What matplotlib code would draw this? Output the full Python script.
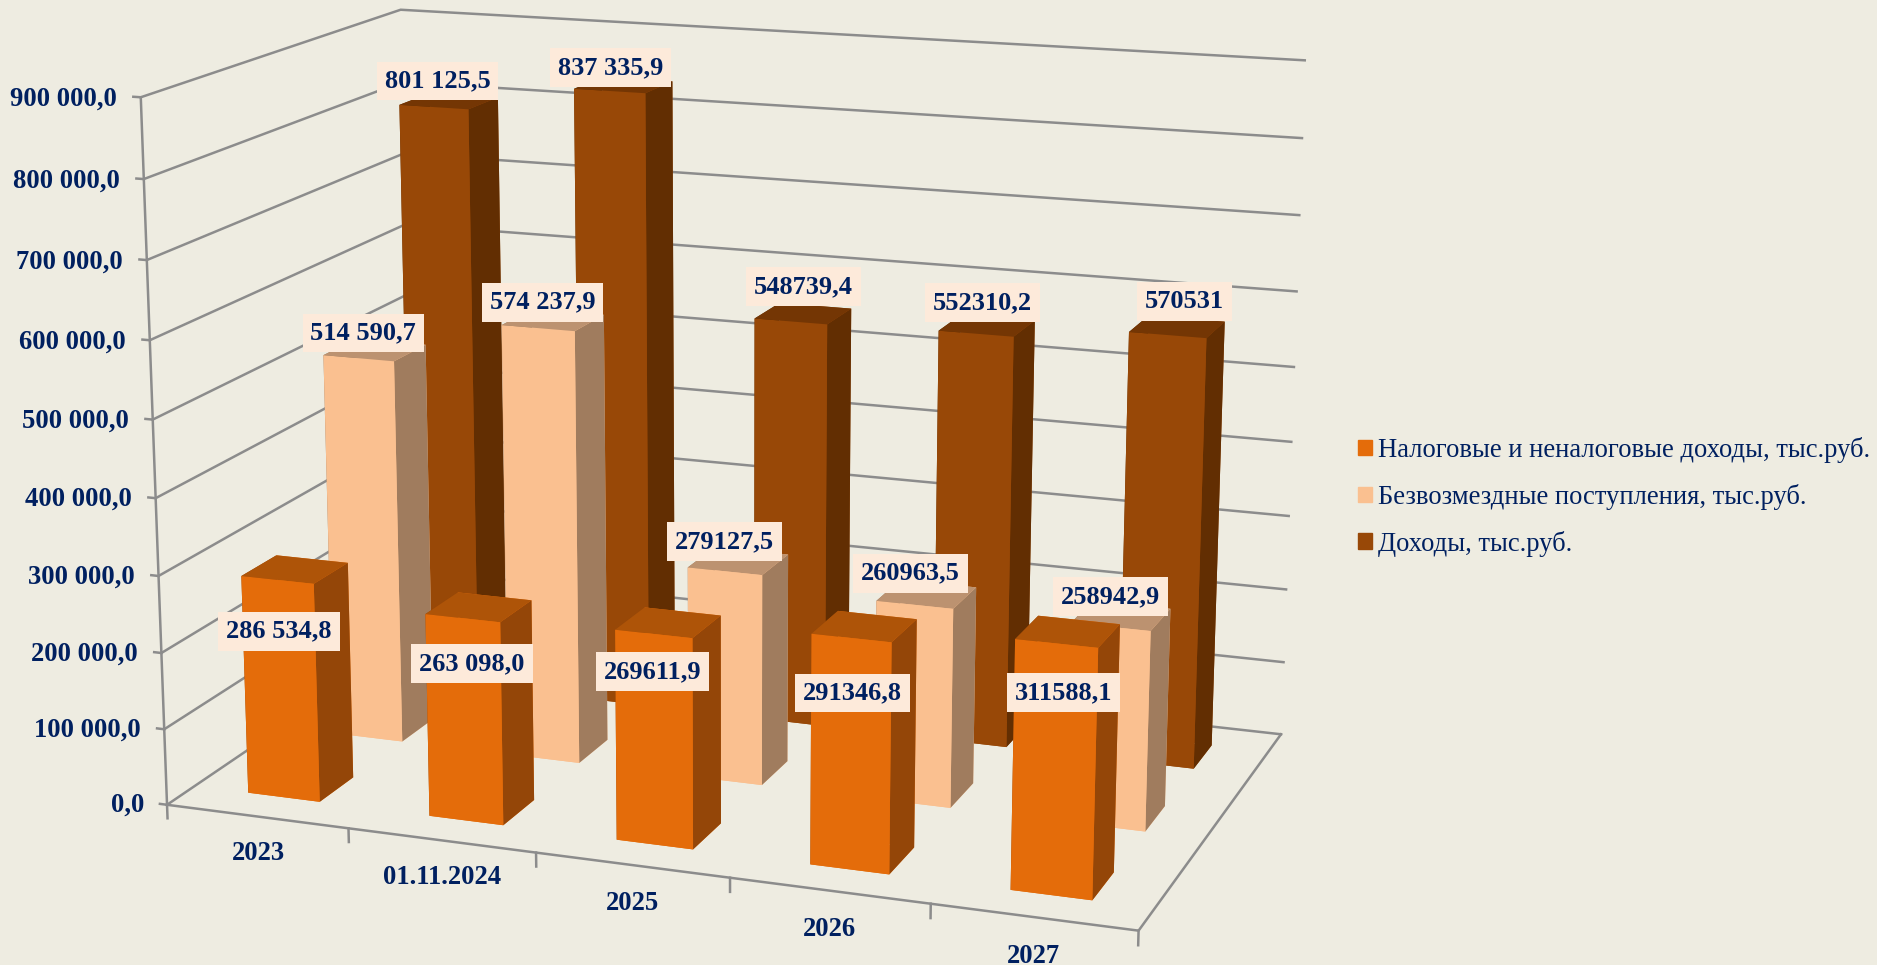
import matplotlib
matplotlib.use('Agg')
import matplotlib.pyplot as plt
from matplotlib.patches import Patch

categorias = ['2023', '01.11.2024', '2025', '2026', '2027']
series = ['Налоговые и неналоговые доходы, тыс.руб.', 'Безвозмездные поступления, тыс.руб.', 'Доходы, тыс.руб.']
nalog = [286534.8, 263098.0, 269611.9, 291346.8, 311588.1]
bezv = [514590.7, 574237.9, 279127.5, 260963.5, 258942.9]
doh = [801125.5, 837335.9, 548739.4, 552310.2, 570531.0]
rot_nalog = ['286 534,8', '263 098,0', '269611,9', '291346,8', '311588,1']
rot_bezv = ['514 590,7', '574 237,9', '279127,5', '260963,5', '258942,9']
rot_doh = ['801 125,5', '837 335,9', '548739,4', '552310,2', '570531']
ticks = [0, 100000, 200000, 300000, 400000, 500000, 600000, 700000, 800000, 900000]
rot_ticks = ['0,0', '100 000,0', '200 000,0', '300 000,0', '400 000,0', '500 000,0', '600 000,0', '700 000,0', '800 000,0', '900 000,0']

# deslocamento manual dos rotulos (o original tem rotulos movidos a mao)
desl_x = [[0, .045, -.006, .006, .038], [.03, .026, 0, -.025, -.005], [.025, .006, .069, .032, .082]]
desl_z = [[-66850, -57400, -47950, -68275, -58975], [33975, 33975, 38700, 40275, 38550], [35275, 30550, 47725, 41575, 44725]]

# camera ajustada aos cantos do grafico original
elev, azim, roll, foco = 14.469, -70.047, -0.004, 0.5690
caixa = (1.3961, 0.8327, 1)
esc, ox, oy = 7136.70, 738.22, 431.03
larg, prof = 0.3983, 0.3950

W, H = 1877, 965
plt.rcParams['font.family'] = ['Liberation Serif', 'DejaVu Serif']
fig = plt.figure(figsize=(W / 100, H / 100), dpi=100, facecolor='#EEECE1')
ax = fig.add_axes([0, 0, 1, 1], projection='3d', computed_zorder=False)
ax.set_xlim(0, 5, view_margin=0)
ax.set_ylim(0, 3, view_margin=0)
ax.set_zlim(0, 900000, view_margin=0)
ax.view_init(elev, azim, roll)
ax.set_proj_type('persp', focal_length=foco)
ax.set_box_aspect(caixa)
x0, x1 = ax.viewLim.intervalx
y0, y1 = ax.viewLim.intervaly
L = esc * (x1 - x0)
ax.set_position([(ox + esc * x0) / W, (H - oy + esc * y0) / H, L / W, L / H])
ax.set_axis_off()
ax.patch.set_alpha(0)

azul = '#002060'
cinza = '#8C8C8C'
cores = [('#E46C0A', '#AE5408', '#944608'), ('#FAC090', '#BC9270', '#A07C5E'), ('#984807', '#743604', '#622E02')]
valores = [nalog, bezv, doh]
rotulos = [rot_nalog, rot_bezv, rot_doh]

for t in ticks:
    ax.plot([0, 0, 5], [0, 3, 3], [t, t, t], color=cinza, lw=1.8, zorder=1, clip_on=False)
    ax.plot([-0.04, 0], [0, 0], [t, t], color=cinza, lw=1.8, zorder=1, clip_on=False)
ax.plot([0, 0], [0, 0], [0, 900000], color=cinza, lw=1.8, zorder=1, clip_on=False)
ax.plot([0, 5, 5], [0, 0, 3], [0, 0, 0], color=cinza, lw=1.8, zorder=1, clip_on=False)
for i in range(6):
    ax.plot([i, i], [0, 0], [0, -18000], color=cinza, lw=1.8, zorder=1, clip_on=False)

z = 2
for j in (2, 1, 0):
    fr, tp, sd = cores[j]
    for i in range(5):
        ax.bar3d(i + .5 - larg / 2, j + .5 - prof / 2, 0, larg, prof, valores[j][i], shade=False,
                 color=[fr, tp, fr, fr, sd, sd], linewidth=0, zorder=z)
        z += 1

for j in range(3):
    for i in range(5):
        ax.text(i + .5 + desl_x[j][i], j + .5 - prof / 2, valores[j][i] + desl_z[j][i], rotulos[j][i],
                ha='center', va='center', color=azul, fontsize=19, fontweight='bold', zorder=100,
                bbox=dict(boxstyle='square,pad=0.3', fc='#FDEADA', ec='none'))

for t, r in zip(ticks, rot_ticks):
    ax.text(-0.13, 0, t - 4500, r, ha='right', va='center', color=azul, fontsize=19.2, fontweight='bold')
for i, r in enumerate(categorias):
    ax.text(i + .5, 0, -49000, r, ha='center', va='center', color=azul, fontsize=19.2, fontweight='bold')

alcas = [Patch(color=cores[j][0]) for j in range(3)]
fig.legend(alcas, series, loc='upper left', bbox_to_anchor=(1358 / W, 1 - 437 / H), frameon=False, fontsize=19.2,
           labelcolor=azul, handlelength=0.525, handleheight=0.525, handletextpad=0.22, labelspacing=0.78,
           borderpad=0, borderaxespad=0)
fig.savefig('out.png', dpi=100, facecolor=fig.get_facecolor())
